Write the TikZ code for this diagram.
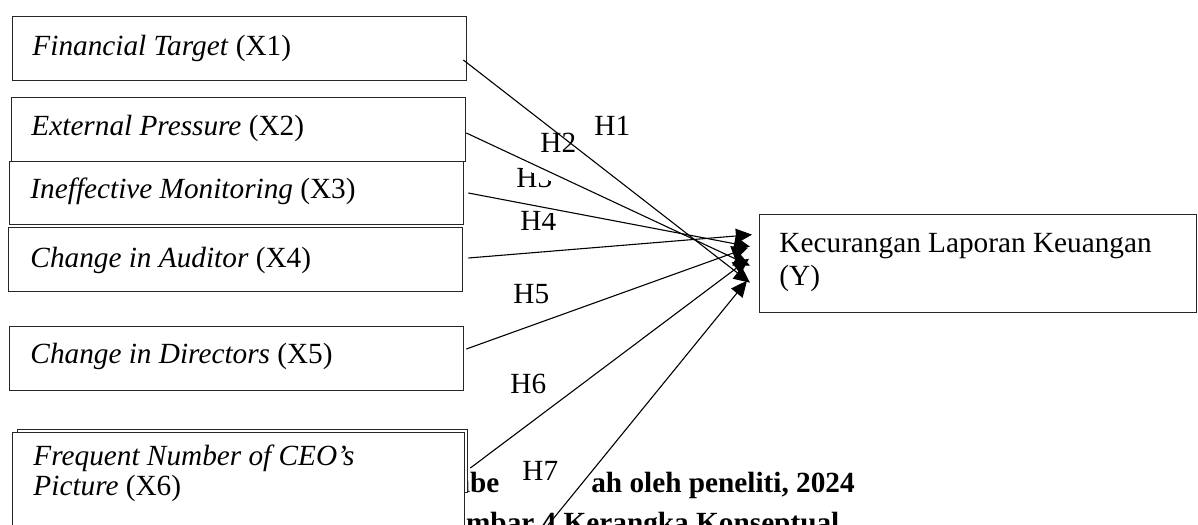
\documentclass[tikz,border=0pt]{standalone}
\usepackage{fontspec}
\setmainfont{Liberation Serif}
\usetikzlibrary{arrows.meta,calc}
\newcommand\pxu{0.41pt}
\begin{document}
\begin{tikzpicture}[x=0.41pt,y=-0.41pt,
  box/.style={draw=black!85, line width=0.55pt, fill=white, inner sep=0pt, anchor=north west},
  lbl/.style={inner sep=0pt, anchor=base west, font=\fontsize{12}{14}\selectfont},
  captext/.style={inner sep=0pt, anchor=base, font=\fontsize{12}{14}\selectfont\bfseries},
  link/.style={line width=0.45pt, -{Triangle[length=6.6pt,width=6pt]}}]
\useasboundingbox (0,0) rectangle (1198,524);
\clip (0,0) rectangle (1198,524);

% caption lines, partly hidden behind the boxes
\node[captext] (src) at (634,492) {Sumber : Diolah oleh peneliti, 2024};
\node[captext] (fig) at (634,532) {Gambar 4 Kerangka Konseptual};

% independent variables
\node[box, minimum width=454*\pxu, minimum height=64*\pxu] (x1) at (12,16) {};
\node[box, minimum width=454*\pxu, minimum height=64*\pxu] (x2) at (11,97) {};
\node[box, minimum width=454*\pxu, minimum height=63*\pxu] (x3) at (9,161) {};
\node[box, minimum width=454*\pxu, minimum height=64*\pxu] (x4) at (8,227) {};
\node[box, minimum width=454*\pxu, minimum height=64*\pxu] (x5) at (9,326) {};
\node[box, minimum width=450*\pxu, minimum height=63*\pxu] (x6b) at (17,429) {};
\node[box, minimum width=452*\pxu, minimum height=110*\pxu] (x6) at (12,432) {};

\node[lbl] (x1t) at (32,55) {\textit{Financial Target} (X1)};
\node[lbl] (x2t) at (31,135) {\textit{External Pressure} (X2)};
\node[lbl] (x3t) at (30,198) {\textit{Ineffective Monitoring} (X3)};
\node[lbl] (x4t) at (30,267) {\textit{Change in Auditor} (X4)};
\node[lbl] (x5t) at (30,363) {\textit{Change in Directors} (X5)};
\node[lbl] (x6t) at (33,465) {\textit{Frequent Number of CEO’s}};
\node[lbl] (x6u) at (33,495) {\textit{Picture} (X6)};

% dependent variable
\node[box, minimum width=437*\pxu, minimum height=98*\pxu] (y) at (759,214) {};
\node[lbl] (yt) at (779,252) {Kecurangan Laporan Keuangan};
\node[lbl] (yu) at (779,285) {(Y)};

% connector ends
\coordinate (s1) at ([shift={(-4,44)}]x1.north east);
\coordinate (s2) at ([shift={(0,36)}]x2.north east);
\coordinate (s3) at ([shift={(4,32)}]x3.north east);
\coordinate (s4) at ([shift={(5,31)}]x4.north east);
\coordinate (s5) at ([shift={(2,23)}]x5.north east);
\coordinate (s6) at ([shift={(5,36)}]x6.north east);
\coordinate (s7) at (540,535);
\coordinate (t1) at ([shift={(-9,19)}]y.west);
\coordinate (t2) at ([shift={(-9,2)}]y.west);
\coordinate (t3) at ([shift={(-9,-17)}]y.west);
\coordinate (t4) at ([shift={(-7,-29)}]y.west);
\coordinate (t5) at ([shift={(-11,-16)}]y.west);
\coordinate (t6) at ([shift={(-10,-5)}]y.west);
\coordinate (t7) at ([shift={(-12,17)}]y.west);

% hypothesis labels
\node[lbl] (h1) at (594,135) {H1};
\node[lbl] (h2) at (540,152) {H2};
\begin{scope}
  \clip ($(s2)+(0,9)$) -- ($(t2)+(0,9)$) -- ($(t2)+(0,90)$) -- ($(s2)+(0,90)$) -- cycle;
  \node[lbl] (h3) at (516,187) {H3};
\end{scope}
\begin{scope}
  \clip ($(s3)+(0,4)$) -- ($(t3)+(0,4)$) -- ($(t3)+(0,90)$) -- ($(s3)+(0,90)$) -- cycle;
  \node[lbl] (h4) at (520,230) {H4};
\end{scope}
\node[lbl] (h5) at (513,303) {H5};
\node[lbl] (h6) at (510,393) {H6};
\fill[white] (500,451) rectangle (591,504);
\node[lbl] (h7) at (522,480) {H7};

% paths
\draw[link] (s1) -- (t1);
\draw[link] (s2) -- (t2);
\draw[link] (s3) -- (t3);
\draw[link] (s4) -- (t4);
\draw[link] (s5) -- (t5);
\draw[link] (s6) -- (t6);
\draw[link] (s7) -- (t7);
\end{tikzpicture}
\end{document}
